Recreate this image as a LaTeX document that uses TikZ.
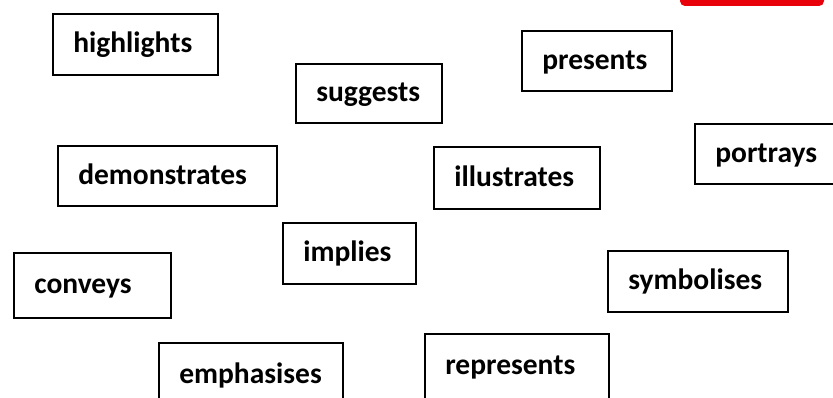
\documentclass[tikz,border=0pt]{standalone}
\usepackage{fontspec}
\setmainfont{Carlito}
\usepackage{xcolor}
\usepackage{tikz}
\usetikzlibrary{positioning}
\definecolor{tabred}{RGB}{232,0,10}

\begin{document}
\begin{tikzpicture}
  [
    x=1pt, y=1pt,
    Word/.style={rectangle, draw=black, line width=1.6pt, anchor=north west, minimum height=61pt, inner xsep=20.5pt, inner ysep=0pt, text height=22pt, text depth=5pt, align=left, font=\fontsize{29.5}{35}\selectfont\bfseries},
    Tab/.style={fill=tabred, draw=none, rounded corners=5pt}
  ]
  \useasboundingbox (0, 0) rectangle (833, 397);
  \clip (0, 0) rectangle (833, 397);

  % Tab
  \fill[Tab] (680, 391) rectangle (824, 420);

  % Nodes
  \node[Word, text width=124pt] (highlights) at(52, 384) {highlights};

  \node[Word, text width=105pt, minimum height=59pt] (suggests) at(295, 334) {suggests};

  \node[Word, text width=109pt, minimum height=60pt] (presents) at(521, 367) {presents};

  \node[Word, text width=178pt, minimum height=60pt] (demonstrates) at(57, 252) {demonstrates};

  \node[Word, text width=125pt, minimum height=62pt] (illustrates) at(433, 251) {illustrates};

  \node[Word, text width=119pt, minimum height=60pt] (portrays) at(694, 274) {portrays};

  \node[Word, text width=92pt] (implies) at(282, 175) {implies};

  \node[Word, text width=116pt, minimum height=65pt] (conveys) at(13, 145) {conveys};

  \node[Word, text width=139pt] (symbolises) at(607, 147) {symbolises};

  \node[Word, text width=143pt, minimum height=65pt] (emphasises) at(158, 55) {emphasises};

  \node[Word, text width=143pt, minimum height=65pt] (represents) at(424, 64) {represents};

\end{tikzpicture}
\end{document}
